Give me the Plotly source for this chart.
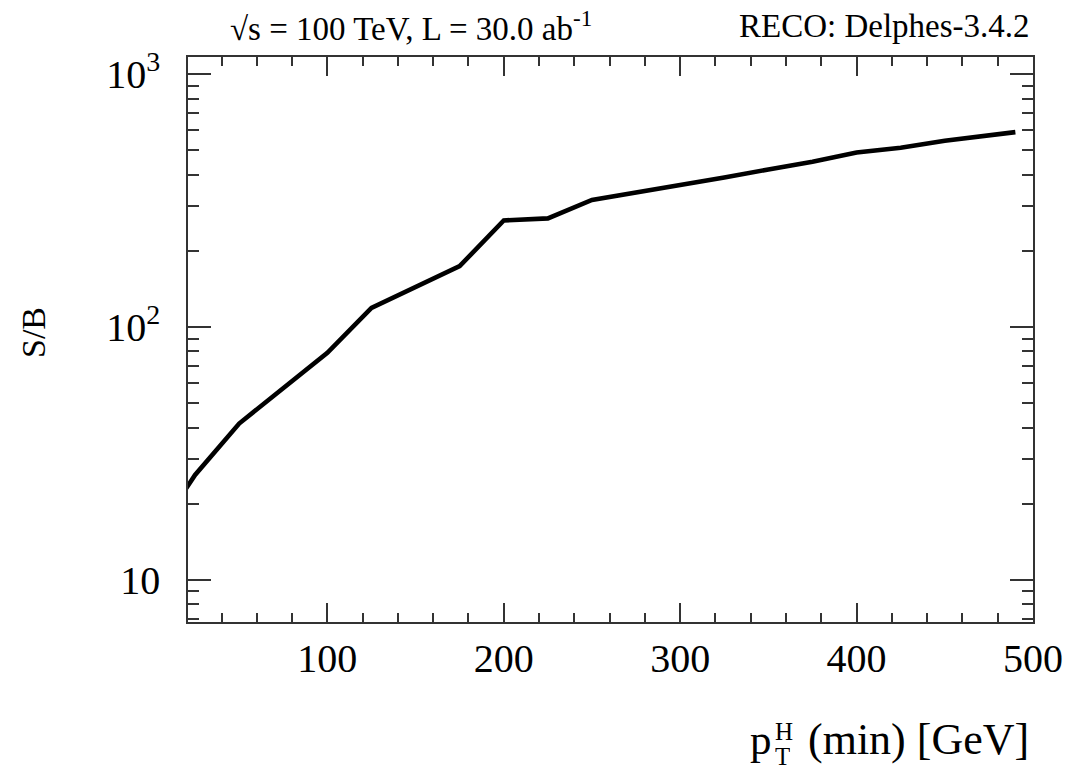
import plotly.graph_objects as go

# ---- data ----
pt_min = [20, 25, 50, 75, 100, 125, 150, 175, 200, 225, 250, 275, 300, 325, 350, 375, 400, 425, 450, 475, 490]
s_over_b = [23.0, 26.0, 41.5, 57.0, 79.0, 119.0, 144.0, 174.0, 264.0, 269.0, 318.0, 340.0, 362.0, 390.0,
            420.0, 450.0, 490.0, 512.0, 545.0, 575.0, 590.0]

x_major = [100, 200, 300, 400, 500]
x_minor = [v for v in range(40, 500, 20) if v % 100 != 0]
y_major = [10, 100, 1000]
y_major_text = ["10", "10<sup>2</sup>", "10<sup>3</sup>"]
y_minor = [7, 8, 9, 20, 30, 40, 50, 60, 70, 80, 90, 200, 300, 400, 500, 600, 700, 800, 900]

FONT = "Liberation Serif, Times New Roman, DejaVu Serif, serif"
FRAME = "#333333"

L, R, T, B = 188, 33, 57, 146
W, H = 1066, 768
PW, PH = W - L - R, H - T - B


def px(xp):
    return (xp - L) / PW


def py(yp):
    return (H - B - yp) / PH


fig = go.Figure()
fig.add_trace(go.Scatter(x=pt_min, y=s_over_b, mode="lines",
                         line=dict(color="black", width=4.6), showlegend=False))

fig.update_xaxes(
    range=[21, 500], showline=True, linecolor=FRAME, linewidth=1.5, mirror="ticks",
    ticks="inside", ticklen=19, tickwidth=1.5, tickcolor=FRAME,
    tickmode="array", tickvals=x_major, ticktext=[str(v) for v in x_major],
    tickfont=dict(family=FONT, size=40, color="black"),
    ticklabelstandoff=0, automargin=False,
    minor=dict(tickmode="array", tickvals=x_minor, ticks="inside", ticklen=9,
               tickwidth=1.5, tickcolor=FRAME, showgrid=False),
    showgrid=False, zeroline=False,
)
fig.update_yaxes(
    type="log", range=[0.833, 3.068], showline=True, linecolor=FRAME, linewidth=1.5, mirror="ticks",
    ticks="inside", ticklen=23, tickwidth=1.5, tickcolor=FRAME,
    tickmode="array", tickvals=y_major, ticktext=y_major_text,
    tickfont=dict(family=FONT, size=40, color="black"),
    ticklabelstandoff=18, automargin=False,
    minor=dict(tickmode="array", tickvals=y_minor, ticks="inside", ticklen=11,
               tickwidth=1.5, tickcolor=FRAME, showgrid=False),
    showgrid=False, zeroline=False,
)

ann = [
    dict(text="√s = 100 TeV, L = 30.0 ab<sup>-1</sup>", x=px(228), y=py(26), xanchor="left",
         yanchor="middle", font=dict(family=FONT, size=33, color="black")),
    dict(text="RECO: Delphes-3.4.2", x=px(1032), y=py(26), xanchor="right",
         yanchor="middle", font=dict(family=FONT, size=33, color="black")),
    dict(text="S/B", x=px(33), y=py(333), xanchor="center", yanchor="middle", textangle=-90,
         font=dict(family=FONT, size=34, color="black")),
    dict(text="(min) [GeV]", x=px(1031), y=py(739), xanchor="right", yanchor="middle",
         font=dict(family=FONT, size=44, color="black")),
    dict(text="p", x=px(774), y=py(739), xanchor="right", yanchor="middle",
         font=dict(family=FONT, size=43, color="black")),
    dict(text="H", x=px(773), y=py(731), xanchor="left", yanchor="middle", height=20,
         font=dict(family=FONT, size=25, color="black")),
    dict(text="T", x=px(773), y=py(756), xanchor="left", yanchor="middle", height=20,
         font=dict(family=FONT, size=25, color="black")),
]
for a in ann:
    a.update(xref="paper", yref="paper", showarrow=False)

fig.update_layout(
    width=W, height=H, margin=dict(l=L, r=R, t=T, b=B, pad=0, autoexpand=False),
    plot_bgcolor="white", paper_bgcolor="white",
    annotations=ann, font=dict(family=FONT, color="black"),
)

fig.write_html(
    "out.html",
    config={"displayModeBar": False},
    post_script="document.body.style.margin='0';document.body.style.overflow='hidden';"
                "document.documentElement.style.overflow='hidden';",
)
